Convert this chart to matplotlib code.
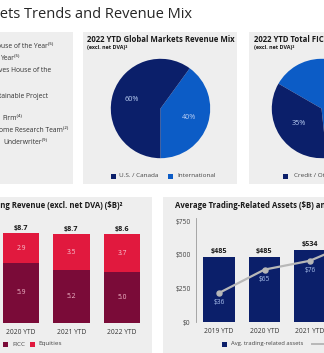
import matplotlib
matplotlib.use('Agg')
import matplotlib.pyplot as plt
from matplotlib.patches import Rectangle

plt.rcParams['font.family'] = ['Open Sans', 'DejaVu Sans']

# dados
mix_labels = ['International', 'U.S. / Canada']
mix_values = [40, 60]

ficc_labels = ['Macro', 'Credit / Other']
ficc_values = [65, 35]

rev_years = ['2020 YTD', '2021 YTD', '2022 YTD']
rev_ficc = [5.9, 5.2, 5.0]
rev_equities = [2.9, 3.5, 3.7]
rev_totals = ['$8.7', '$8.7', '$8.6']

asset_years = ['2019 YTD', '2020 YTD', '2021 YTD', '2022 YTD']
asset_values = [485, 485, 534, 575]
var_values = [36, 65, 76, 100]

# cores
NAVY = '#0b1f6a'
BLUE = '#0c5cc6'
MAROON = '#7a0b38'
RED = '#e1193e'
PANEL = '#eeeeee'
GREY_LINE = '#b8b8b8'

W, H = 324, 353


def fx(px):
    return px / W


def fy(py):
    return 1 - py / H


def caixa(x0, y0, x1, y1, cor):
    fig.add_artist(Rectangle((fx(x0), fy(y1)), (x1 - x0) / W, (y1 - y0) / H,
                             transform=fig.transFigure, facecolor=cor,
                             edgecolor='none', zorder=0))


def texto(x, y, s, **kw):
    kw.setdefault('va', 'center')
    kw.setdefault('color', '#333333')
    return fig.text(fx(x), fy(y), s, **kw)


def eixo(x0, y0, x1, y1):
    return fig.add_axes([fx(x0), fy(y1), (x1 - x0) / W, (y1 - y0) / H])


def legenda(x, y, cor, nome, tx=None, fs=4.6):
    caixa(x, y - 2.5, x + 5, y + 2.5, cor)
    texto(x + 8 if tx is None else tx, y, nome, fontsize=fs, color='#444444')


fig = plt.figure(figsize=(W / 100, H / 100), dpi=100)
fig.patch.set_facecolor('white')

# titulo principal
texto(192, 18, 'Global Markets Trends and Revenue Mix', ha='right',
      va='baseline', fontsize=10.5, color='#262626')

# paineis de fundo
caixa(-5, 32, 73, 184, PANEL)
caixa(83, 32, 237, 184, PANEL)
caixa(249, 32, 330, 184, PANEL)
caixa(-5, 197, 152, 360, PANEL)
caixa(163, 197, 330, 360, PANEL)

# lista de premios
premios = [
    (-3, 47, 'ouse of the Year⁽⁵⁾'),
    (1, 59, 'Year⁽⁵⁾'),
    (-1, 71, 'ves House of the'),
    (-1, 96, 'tainable Project'),
    (2, 118, 'Firm⁽⁴⁾'),
    (-1, 130, 'ome Research Team⁽²⁾'),
    (3, 143, 'Underwriter⁽⁹⁾'),
]
for x, y, s in premios:
    texto(x, y, s, fontsize=4.9, color='#333333')

# pizza - mix global
texto(87, 39, '2022 YTD Global Markets Revenue Mix', fontsize=5.6,
      fontweight='bold', color='#1a1a1a')
texto(87, 47, '(excl. net DVA)²', fontsize=3.9, fontweight='bold', color='#1a1a1a')
ax1 = eixo(160.5 - 49.7, 108.5 - 49.7, 160.5 + 49.7, 108.5 + 49.7)
ax1.pie(mix_values, colors=[BLUE, NAVY], startangle=-90, counterclock=True,
        autopct='%d%%', pctdistance=0.6,
        textprops={'color': '#b9cdf2', 'fontsize': 5.2})
ax1.set_xlim(-1, 1)
ax1.set_ylim(-1, 1)
ax1.axis('off')
legenda(111, 176, NAVY, 'U.S. / Canada')
legenda(168, 176, BLUE, 'International', tx=177)

# pizza - FICC
texto(254, 39, '2022 YTD Total FICC Revenue Mix', fontsize=5.6,
      fontweight='bold', color='#1a1a1a')
texto(254, 47, '(excl. net DVA)²', fontsize=3.9, fontweight='bold', color='#1a1a1a')
ax2 = eixo(321.5 - 49.7, 108.5 - 49.7, 321.5 + 49.7, 108.5 + 49.7)
ax2.pie(ficc_values, colors=[BLUE, NAVY], startangle=-84, counterclock=True,
        autopct='%d%%', pctdistance=0.55,
        textprops={'color': '#b9cdf2', 'fontsize': 5.2})
ax2.set_xlim(-1, 1)
ax2.set_ylim(-1, 1)
ax2.axis('off')
legenda(283, 176, NAVY, 'Credit / Other', tx=294)

# receita de trading
texto(123, 205, r'Sales and Trading Revenue (excl. net DVA) (\$B)²', ha='right',
      fontsize=5.6, fontweight='bold', color='#1a1a1a')
ax3 = eixo(-4.25, 221, 147.25, 323)
pos = range(len(rev_years))
ax3.bar(pos, rev_ficc, width=0.72, color=MAROON)
ax3.bar(pos, rev_equities, width=0.72, bottom=rev_ficc, color=RED)
for i in pos:
    ax3.text(i, rev_ficc[i] / 2, f'{rev_ficc[i]:.1f}', ha='center', va='center',
             fontsize=4.8, color='#f1b9c9')
    ax3.text(i, rev_ficc[i] + rev_equities[i] / 2, f'{rev_equities[i]:.1f}',
             ha='center', va='center', fontsize=4.8, color='#f6c6d1')
    ax3.annotate(rev_totals[i], (i, rev_ficc[i] + rev_equities[i]),
                 xytext=(0, 3.5), textcoords='offset points', ha='center',
                 va='center', fontsize=5.2, fontweight='bold', color='#1a1a1a')
ax3.set_xlim(-0.5, 2.5)
ax3.set_ylim(0, 10)
ax3.set_xticks(list(pos))
ax3.set_xticklabels(rev_years, fontsize=4.8, color='#333333')
ax3.tick_params(axis='x', length=0, pad=4)
ax3.set_yticks([])
for s in ax3.spines.values():
    s.set_visible(False)
ax3.patch.set_alpha(0)
legenda(3, 344, MAROON, 'FICC', tx=12)
legenda(30, 344, RED, 'Equities', tx=38)

# ativos medios de trading
texto(175, 205, r'Average Trading-Related Assets (\$B) and VaR (\$MM)³',
      fontsize=5.6, fontweight='bold', color='#1a1a1a')
ax4 = eixo(196.25, 218, 378.25, 322)
pos4 = range(len(asset_years))
ax4.bar(pos4, asset_values, width=0.7, color=NAVY, zorder=2)
for i in pos4:
    ax4.annotate(f'${asset_values[i]}', (i, asset_values[i]), xytext=(0, 4),
                 textcoords='offset points', ha='center', va='center',
                 fontsize=5.2, fontweight='bold', color='#1a1a1a')
ax4.set_xlim(-0.5, 3.5)
ax4.set_ylim(0, 775)
ax4.set_yticks([0, 250, 500, 750])
ax4.set_yticklabels(['$0', '$250', '$500', '$750'], fontsize=4.8, color='#444444')
ax4.set_xticks(list(pos4))
ax4.set_xticklabels(asset_years, fontsize=4.8, color='#333333')
ax4.tick_params(axis='both', length=0, pad=4)
for s in ['top', 'right', 'bottom']:
    ax4.spines[s].set_visible(False)
ax4.spines['left'].set_color('#9a9a9a')
ax4.spines['left'].set_linewidth(0.6)
ax4.patch.set_alpha(0)

ax5 = ax4.twinx()
ax5.plot(list(pos4), var_values, color=GREY_LINE, lw=1.6, marker='o', ms=3.6,
         zorder=3)
for i in pos4:
    ax5.annotate(f'${var_values[i]}', (i, var_values[i]), xytext=(0, -7),
                 textcoords='offset points', ha='center', va='center',
                 fontsize=4.8, color='#a9c0ec')
ax5.set_ylim(0, 129)
ax5.set_yticks([])
for s in ax5.spines.values():
    s.set_visible(False)

legenda(222, 344, NAVY, 'Avg. trading-related assets', tx=231, fs=4.2)
fig.add_artist(plt.Line2D([fx(312), fx(330)], [fy(344), fy(344)],
                          transform=fig.transFigure, color=GREY_LINE, lw=1.4,
                          marker='o', markevery=[1], ms=3.2))

fig.savefig('out.png', dpi=100)
